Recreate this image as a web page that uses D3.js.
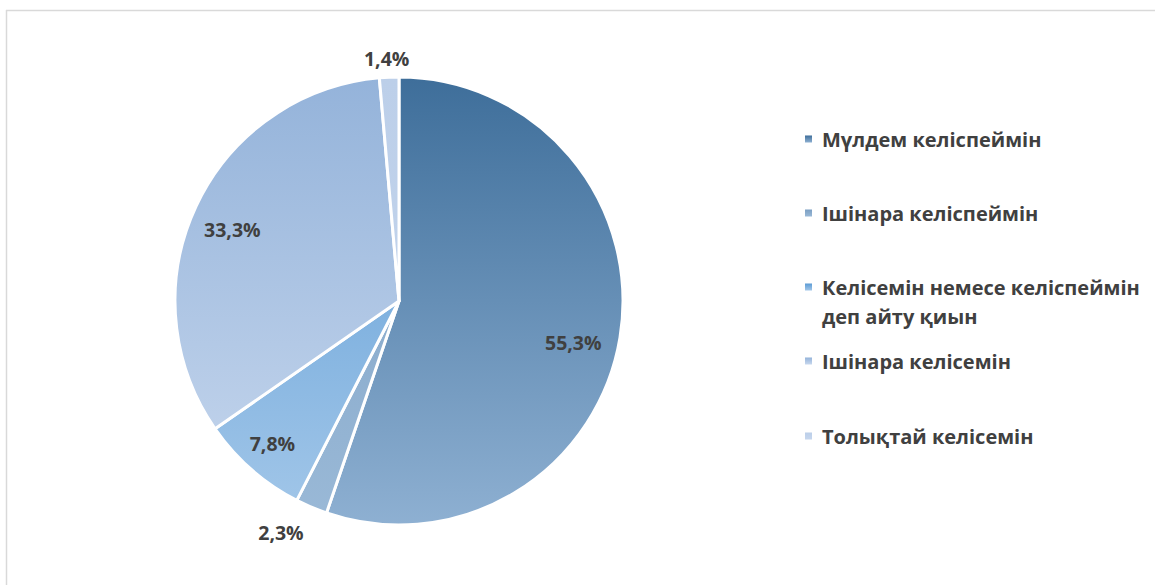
<!DOCTYPE html>
<html><head><meta charset="utf-8">
<script src="https://cdn.jsdelivr.net/npm/d3@7"></script>
<style>html,body{margin:0;padding:0;background:#fff;}svg{display:block;}</style>
</head><body>
<svg id="c" width="1155" height="585"></svg>
<script>
const categories = ["Мүлдем келіспеймін","Ішінара келіспеймін","Келісемін немесе келіспеймін деп айту қиын","Ішінара келісемін","Толықтай келісемін"];
const legendLines = [["Мүлдем келіспеймін"],["Ішінара келіспеймін"],["Келісемін немесе келіспеймін","деп айту қиын"],["Ішінара келісемін"],["Толықтай келісемін"]];
const values = [55.3, 2.3, 7.8, 33.3, 1.4];
const labels = ["55,3%","2,3%","7,8%","33,3%","1,4%"];
const colorTop = ["#3e6e9a","#7b9fc3","#5b9bd5","#94b3da","#bccfe9"];
const colorBot = ["#8eb0d2","#9ab9d7","#a3c7e9","#c8d8ee","#c6d6ed"];

const svg = d3.select("#c");
svg.append("line").attr("x1",6).attr("x2",1155).attr("y1",10.5).attr("y2",10.5).attr("stroke","#d9d9d9").attr("stroke-width",1.5);
svg.append("line").attr("x1",6.5).attr("x2",6.5).attr("y1",10).attr("y2",585).attr("stroke","#d9d9d9").attr("stroke-width",1.5);

const defs = svg.append("defs");
const cx = 399, cy = 301, r = 224;
categories.forEach((c,i)=>{
  const g = defs.append("linearGradient").attr("id","g"+i).attr("gradientUnits","userSpaceOnUse")
    .attr("x1",0).attr("y1",-r).attr("x2",0).attr("y2",r);
  g.append("stop").attr("offset","0%").attr("stop-color",colorTop[i]);
  g.append("stop").attr("offset","100%").attr("stop-color",colorBot[i]);
  const lg = defs.append("linearGradient").attr("id","lg"+i).attr("x1",0).attr("y1",0).attr("x2",0).attr("y2",1);
  lg.append("stop").attr("offset","0%").attr("stop-color",colorTop[i]);
  lg.append("stop").attr("offset","100%").attr("stop-color",colorBot[i]);
});

const pie = d3.pie().sort(null).value(d=>d)(values);
const arc = d3.arc().innerRadius(0).outerRadius(r);
const gp = svg.append("g").attr("transform",`translate(${cx},${cy})`);
gp.selectAll("path").data(pie).join("path")
  .attr("d",arc)
  .attr("fill",(d,i)=>`url(#g${i})`)
  .attr("stroke","#fff").attr("stroke-width",3).attr("stroke-linejoin","round");

const labelR = [0.8, 1.16, 0.85, 0.81, 1.085];
const labelShift = [4, 4, 0.5, -1.8, -0.4];
const pos = (d,i)=>{
  const a = (d.startAngle+d.endAngle)/2 + labelShift[i]*Math.PI/180;
  return [Math.sin(a)*r*labelR[i], -Math.cos(a)*r*labelR[i]];
};
gp.selectAll("text").data(pie).join("text")
  .attr("x",(d,i)=>pos(d,i)[0])
  .attr("y",(d,i)=>pos(d,i)[1])
  .attr("text-anchor","middle").attr("dominant-baseline","central")
  .attr("font-family","'Open Sans', 'Noto Sans', sans-serif").attr("font-weight","bold")
  .attr("font-size",19.5).attr("fill","#404040")
  .text((d,i)=>labels[i]);

const legY = [139, 213, 287, 361, 436];
const lg = svg.append("g");
legendLines.forEach((lines,i)=>{
  lg.append("rect").attr("x",805).attr("y",legY[i]-3.5).attr("width",7).attr("height",7).attr("fill",`url(#lg${i})`);
  lines.forEach((t,j)=>{
    lg.append("text").attr("x",822).attr("y",legY[i]+j*29).attr("dominant-baseline","central")
      .attr("font-family","'Open Sans', 'Noto Sans', sans-serif").attr("font-weight","bold")
      .attr("font-size",20).attr("fill","#404040").text(t);
  });
});
</script>
</body></html>
